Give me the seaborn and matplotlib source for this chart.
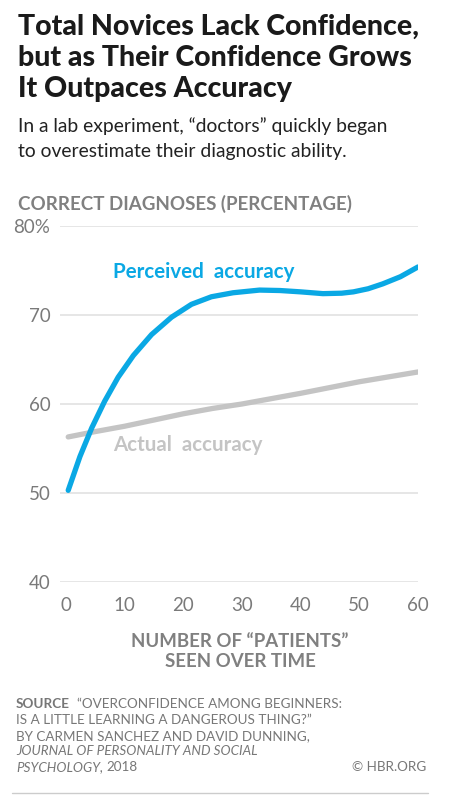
import pandas as pd
import seaborn as sns
import matplotlib.pyplot as plt

# values
patients = [0.4, 2.4, 4.4, 6.6, 8.9, 11.5, 14.6, 18, 21.4, 24.8, 28.5, 33, 36.5, 40, 43.8, 47, 49, 51.5, 54, 57, 60]
perceived = [50.3, 54.1, 57.3, 60.3, 63.0, 65.45, 67.8, 69.75, 71.2, 72.05, 72.5, 72.8, 72.75, 72.6, 72.4, 72.45, 72.6, 72.95, 73.5, 74.3, 75.4]

actual_x = [0.4, 5, 10, 15, 20, 25, 30, 40, 50, 60]
actual = [56.3, 56.9, 57.5, 58.2, 58.9, 59.5, 60.0, 61.2, 62.5, 63.6]

y_ticks = [40, 50, 60, 70, 80]
y_tick_labels = ["40", "50", "60", "70", "80%"]
x_ticks = [0, 10, 20, 30, 40, 50, 60]

BLUE = "#0aa8e4"
LGRAY = "#c4c4c4"
TXT_GRAY = "#7a7a7a"
SRC_GRAY = "#777777"

df = pd.concat([
    pd.DataFrame({"patients": patients, "pct": perceived, "series": "Perceived accuracy"}),
    pd.DataFrame({"patients": actual_x, "pct": actual, "series": "Actual accuracy"}),
])

sns.set_theme(style="white")
plt.rcParams["font.family"] = ["Lato", "DejaVu Sans"]

W, H = 476, 802
fig = plt.figure(figsize=(W / 100, H / 100), dpi=100)
ax = fig.add_axes([60 / W, 1 - 582 / H, 358 / W, 356 / H])


def fy(py):
    return 1 - py / H


sns.lineplot(data=df, x="patients", y="pct", hue="series",
             palette={"Perceived accuracy": BLUE, "Actual accuracy": LGRAY},
             hue_order=["Actual accuracy", "Perceived accuracy"],
             linewidth=3.8, legend=False, ax=ax)
for ln in ax.lines:
    ln.set_solid_capstyle("round")
    ln.set_solid_joinstyle("round")

ax.set_xlim(-1.0, 60)
ax.set_ylim(40, 80)
for v in y_ticks:
    ax.axhline(v, color="#e2e2e2", linewidth=1.2, zorder=0)
ax.set_yticks(y_ticks)
ax.set_yticklabels(y_tick_labels)
ax.set_xticks(x_ticks)
for s in ax.spines.values():
    s.set_visible(False)
ax.tick_params(axis="y", length=0, pad=7, labelsize=13.5, labelcolor=TXT_GRAY)
ax.tick_params(axis="x", length=7, width=1.2, color="#d8d8d8", pad=4,
               labelsize=13.5, labelcolor=TXT_GRAY, direction="out")
ax.set_xlabel("")
ax.set_ylabel("")
ax.patch.set_alpha(0)

ax.text(8, 74.8, "Perceived  accuracy", color=BLUE, fontsize=14.8,
        fontweight="bold", va="center", ha="left")
ax.text(8, 55.4, "Actual  accuracy", color=LGRAY, fontsize=14.8,
        fontweight="bold", va="center", ha="left")

# headings
title_lines = ["Total Novices Lack Confidence,", "but as Their Confidence Grows",
               "It Outpaces Accuracy"]
for line, py in zip(title_lines, [35, 66, 97]):
    fig.text(18 / W, fy(py), line, fontsize=20.5, fontweight="black",
             color="#1a1a1a", va="baseline", ha="left")

sub_lines = ["In a lab experiment, \u201cdoctors\u201d quickly began",
             "to overestimate their diagnostic ability."]
for line, py in zip(sub_lines, [132, 157]):
    fig.text(18 / W, fy(py), line, fontsize=13.9, color="#222222",
             va="baseline", ha="left")

fig.text(18 / W, fy(210), "CORRECT DIAGNOSES (PERCENTAGE)",
         fontsize=13.5, fontweight="bold", color="#808080", va="baseline", ha="left")

for line, py in zip(["NUMBER OF \u201cPATIENTS\u201d", "SEEN OVER TIME"], [647, 667]):
    fig.text(240 / W, fy(py), line, fontsize=13.4, fontweight="bold",
             color="#808080", va="baseline", ha="center")

# source block
fig.canvas.draw()
renderer = fig.canvas.get_renderer()


def run_after(first, second, py, first_kw, second_kw, gap=4):
    t = fig.text(16 / W, fy(py), first, fontsize=9.75, color=SRC_GRAY,
                 va="baseline", ha="left", **first_kw)
    bb = t.get_window_extent(renderer=renderer)
    fig.text((bb.x1 + gap) / W, fy(py), second, fontsize=9.75, color=SRC_GRAY,
             va="baseline", ha="left", **second_kw)


run_after("SOURCE", "\u201cOVERCONFIDENCE AMONG BEGINNERS:", 708,
          {"fontweight": "bold"}, {}, gap=7)
fig.text(16 / W, fy(724), "IS A LITTLE LEARNING A DANGEROUS THING?\u201d",
         fontsize=9.75, color=SRC_GRAY, va="baseline", ha="left")
fig.text(16 / W, fy(740), "BY CARMEN SANCHEZ AND DAVID DUNNING,",
         fontsize=9.75, color=SRC_GRAY, va="baseline", ha="left")
fig.text(16 / W, fy(755), "JOURNAL OF PERSONALITY AND SOCIAL",
         fontsize=9.75, color=SRC_GRAY, style="italic", va="baseline", ha="left")
run_after("PSYCHOLOGY,", "2018", 771, {"style": "italic"}, {}, gap=3)
fig.text(426 / W, fy(771), "\u00a9 HBR.ORG", fontsize=9.75, color=SRC_GRAY,
         va="baseline", ha="right")
fig.add_artist(plt.Line2D([12 / W, 428 / W], [fy(793), fy(793)],
                          color="#cccccc", linewidth=1))

fig.savefig("out.png", dpi=100)
